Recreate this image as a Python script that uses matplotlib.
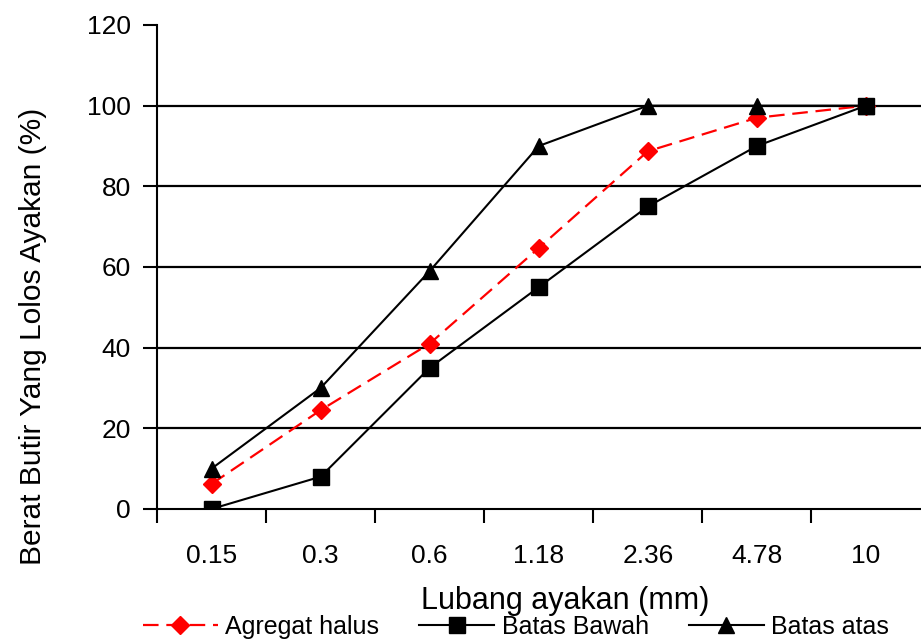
import matplotlib.pyplot as plt

plt.rcParams['font.family'] = ['Liberation Sans', 'DejaVu Sans']

sieves = ["0.15", "0.3", "0.6", "1.18", "2.36", "4.78", "10"]
agregat_halus = [6.2, 24.5, 41, 64.7, 88.7, 97, 100]
batas_bawah = [0, 8, 35, 55, 75, 90, 100]
batas_atas = [10, 30, 59, 90, 100, 100, 100]

fig = plt.figure(figsize=(9.21, 6.41), dpi=100)
ax = fig.add_axes([0.1705, 0.206, 0.829, 0.755])

x = list(range(len(sieves)))

for v in [20, 40, 60, 80, 100]:
    ax.axhline(v, color='black', lw=1.6, zorder=1)

ax.plot(x, agregat_halus, color='red', ls=(0, (7, 3.5)), lw=1.6, marker='D',
        ms=9, mec='red', mfc='red', label='Agregat halus', zorder=3)
ax.plot(x, batas_bawah, color='black', lw=1.5, marker='s', ms=11,
        label='Batas Bawah', zorder=3)
ax.plot(x, batas_atas, color='black', lw=1.5, marker='^', ms=11,
        label='Batas atas', zorder=3)

ax.set_xlim(-0.5, len(sieves) - 0.5)
ax.set_ylim(0, 120)
ax.set_yticks(range(0, 121, 20))
ax.set_xticks([i - 0.5 for i in range(len(sieves))])
ax.set_xticklabels([])
ax.set_xticks(x, minor=True)
ax.set_xticklabels(sieves, minor=True)
ax.tick_params(axis='x', which='minor', length=0, pad=25, labelsize=19)
ax.tick_params(axis='x', which='major', length=10, width=1.5, direction='out')
ax.tick_params(axis='y', length=10, width=1.5, labelsize=19, pad=9)

for s in ['top', 'right']:
    ax.spines[s].set_visible(False)
for s in ['left', 'bottom']:
    ax.spines[s].set_linewidth(1.5)

ax.set_ylabel('Berat Butir Yang Lolos Ayakan (%)', fontsize=21.5, va='center')
ax.yaxis.set_label_coords(-0.162, 0.357)
ax.set_xlabel('Lubang ayakan (mm)', fontsize=22, va='center')
ax.xaxis.set_label_coords(0.535, -0.19)

fig.legend(loc='center', bbox_to_anchor=(0.56, 0.022), ncol=3,
           frameon=False, fontsize=18, handlelength=3.0, columnspacing=1.6,
           handletextpad=0.3)

fig.savefig('out.png', dpi=100)
